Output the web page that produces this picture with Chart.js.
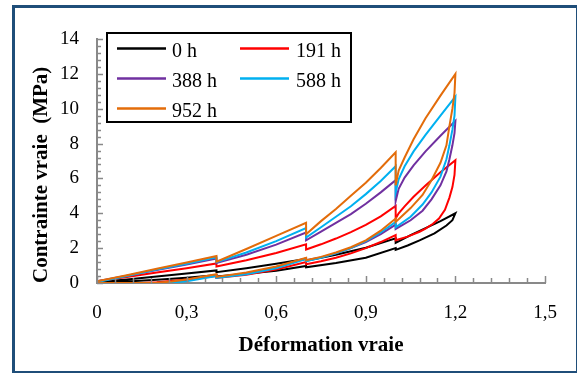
<!DOCTYPE html>
<html>
<head>
<meta charset="utf-8">
<script src="https://cdn.jsdelivr.net/npm/chart.js@4/dist/chart.umd.min.js"></script>
<style>
  html, body { margin: 0; padding: 0; background: #ffffff; }
  #wrap { position: relative; width: 577px; height: 373px; overflow: hidden; }
  #frame { position: absolute; left: 12px; top: 5px; width: 561px; height: 363px; border: 3px solid #1F4E79; pointer-events: none; }
  canvas { position: absolute; left: 0; top: 0; }
</style>
</head>
<body>
<div id="wrap">
  <canvas id="c" width="577" height="373"></canvas>
  <div id="frame"></div>
</div>
<script>
// ---- Data ----
const seriesLabels = ['0 h', '191 h', '388 h', '588 h', '952 h'];
const seriesColors = ['#000000', '#FF0000', '#7030A0', '#00B0F0', '#E36C0A'];
const xTickLabels = ['0', '0,3', '0,6', '0,9', '1,2', '1,5'];

// 0 h
const strain0h = [0, 0.1, 0.2, 0.3, 0.4, 0.4, 0.5, 0.6, 0.7, 0.7, 0.8, 0.9, 1.0, 1.0, 1.05, 1.1, 1.15, 1.2,
                  1.19, 1.17, 1.13, 1.08, 1.04, 1.0, 1.0, 0.9, 0.8, 0.7, 0.7, 0.6, 0.5, 0.4, 0.4, 0.3, 0.2, 0.1, 0];
const stress0h = [0.05, 0.2, 0.37, 0.54, 0.72, 0.62, 0.85, 1.1, 1.38, 1.28, 1.62, 2.02, 2.56, 2.3, 2.75, 3.15, 3.55, 4.0,
                  3.6, 3.3, 2.85, 2.45, 2.15, 1.9, 2.0, 1.45, 1.15, 0.9, 0.98, 0.7, 0.53, 0.38, 0.45, 0.3, 0.18, 0.08, 0.02];

// 191 h
const strain191h = [0, 0.1, 0.2, 0.3, 0.4, 0.4, 0.5, 0.6, 0.7, 0.7, 0.75, 0.8, 0.85, 0.9, 0.95, 1.0, 1.0, 1.01, 1.03, 1.06, 1.1, 1.15, 1.2,
                    1.197, 1.19, 1.18, 1.165, 1.145, 1.125, 1.1, 1.08, 1.04, 1.0, 1.0, 0.95, 0.9, 0.85, 0.8, 0.75, 0.7, 0.7, 0.6, 0.5, 0.4, 0.4, 0.3, 0.2, 0.15, 0];
const stress191h = [0.1, 0.35, 0.6, 0.85, 1.12, 0.95, 1.3, 1.72, 2.22, 1.92, 2.22, 2.55, 2.92, 3.33, 3.82, 4.42, 3.7, 4.0, 4.4, 4.95, 5.6, 6.35, 7.05,
                    6.2, 5.5, 4.9, 4.2, 3.7, 3.4, 3.12, 2.94, 2.66, 2.45, 2.75, 2.35, 2.0, 1.7, 1.45, 1.25, 1.08, 1.2, 0.78, 0.48, 0.3, 0.4, 0.2, 0.05, 0, 0];

// 388 h
const strain388h = [0, 0.1, 0.2, 0.3, 0.4, 0.4, 0.5, 0.6, 0.7, 0.7, 0.75, 0.8, 0.85, 0.9, 0.95, 1.0, 1.0, 1.01, 1.03, 1.06, 1.1, 1.15, 1.2,
                    1.197, 1.19, 1.18, 1.17, 1.15, 1.12, 1.09, 1.05, 1.0, 1.0, 0.95, 0.9, 0.85, 0.8, 0.75, 0.7, 0.7, 0.6, 0.5, 0.4, 0.4, 0.3, 0.25, 0.2, 0];
const stress388h = [0.1, 0.42, 0.75, 1.06, 1.4, 1.15, 1.62, 2.2, 2.9, 2.45, 2.95, 3.45, 3.95, 4.55, 5.2, 5.9, 4.7, 5.4, 6.05, 6.75, 7.55, 8.45, 9.3,
                    8.6, 7.9, 7.1, 6.4, 5.6, 4.8, 4.15, 3.6, 3.1, 3.35, 2.8, 2.35, 2.0, 1.7, 1.47, 1.3, 1.42, 0.9, 0.55, 0.33, 0.45, 0.15, 0.05, 0, 0];

// 588 h
const strain588h = strain388h.slice();
const stress588h = [0.05, 0.4, 0.78, 1.1, 1.47, 1.2, 1.75, 2.4, 3.15, 2.6, 3.2, 3.8, 4.4, 5.1, 5.85, 6.7, 5.2, 5.95, 6.7, 7.55, 8.5, 9.6, 10.7,
                    9.6, 8.8, 7.9, 7.1, 6.1, 5.2, 4.5, 3.8, 3.2, 3.5, 2.9, 2.4, 2.0, 1.7, 1.45, 1.25, 1.38, 0.85, 0.5, 0.3, 0.4, 0.1, 0.02, 0, 0];

// 952 h
const strain952h = strain388h.slice();
const stress952h = [0.1, 0.45, 0.82, 1.18, 1.55, 1.22, 1.95, 2.7, 3.45, 2.8, 3.55, 4.25, 5.0, 5.75, 6.6, 7.5, 5.6, 6.45, 7.2, 8.25, 9.45, 10.75, 12.0,
                    10.9, 10.0, 9.0, 7.9, 6.9, 5.9, 5.05, 4.3, 3.5, 3.7, 3.0, 2.45, 2.05, 1.75, 1.5, 1.3, 1.45, 0.95, 0.6, 0.35, 0.5, 0.2, 0.08, 0.02, 0];

const strains = [strain0h, strain191h, strain388h, strain588h, strain952h];
const stresses = [stress0h, stress191h, stress388h, stress588h, stress952h];

// ---- Build datasets ----
const datasets = seriesLabels.map((lab, i) => ({
  label: lab,
  data: strains[i].map((x, k) => ({ x: x, y: stresses[i][k] })),
  borderColor: seriesColors[i],
  backgroundColor: seriesColors[i],
  borderWidth: 2,
  pointRadius: 0,
  tension: 0,
  fill: false,
  order: seriesLabels.length - i
}));

const AXIS_GRAY = '#898989';
const SERIF = "'Liberation Serif', 'Times New Roman', serif";

// minor/major tick marks drawn inside the plot, through the chart's scales
const tickMarks = {
  id: 'tickMarks',
  afterDraw(chart) {
    const ctx = chart.ctx, xs = chart.scales.x, ys = chart.scales.y;
    const a = chart.chartArea;
    ctx.save();
    ctx.strokeStyle = AXIS_GRAY;
    ctx.lineWidth = 1.5;
    for (let k = 0; k <= 25; k++) {
      const v = k * 0.06;
      const px = Math.round(xs.getPixelForValue(v)) + 0.5;
      const len = (k % 5 === 0) ? 7 : 5;
      ctx.beginPath(); ctx.moveTo(px, a.bottom); ctx.lineTo(px, a.bottom - len); ctx.stroke();
    }
    for (let k = 0; k <= 35; k++) {
      const v = k * 0.4;
      const py = Math.round(ys.getPixelForValue(v)) + 0.5;
      const len = (k % 5 === 0) ? 6 : 4;
      ctx.beginPath(); ctx.moveTo(a.left, py); ctx.lineTo(a.left + len, py); ctx.stroke();
    }
    ctx.restore();
  }
};

// legend box drawn inside the plot
const boxLegend = {
  id: 'boxLegend',
  afterDraw(chart) {
    const ctx = chart.ctx;
    ctx.save();
    ctx.strokeStyle = '#000000';
    ctx.lineWidth = 2;
    ctx.fillStyle = '#ffffff';
    ctx.fillRect(107, 33, 244, 89);
    ctx.strokeRect(107, 33, 244, 89);
    const rows = [48.5, 78.5, 108.5];
    const cols = [{ l0: 117, l1: 166, t: 172 }, { l0: 240, l1: 289, t: 296 }];
    ctx.font = '20px ' + SERIF;
    ctx.textBaseline = 'middle';
    ctx.textAlign = 'left';
    chart.data.datasets.forEach((ds, i) => {
      const r = Math.floor(i / 2), c = i % 2;
      const y = rows[r];
      ctx.strokeStyle = ds.borderColor;
      ctx.lineWidth = 2.5;
      ctx.beginPath(); ctx.moveTo(cols[c].l0, y); ctx.lineTo(cols[c].l1, y); ctx.stroke();
      ctx.fillStyle = '#000000';
      ctx.fillText(ds.label, cols[c].t, y + 3);
    });
    ctx.restore();
  }
};

new Chart(document.getElementById('c'), {
  type: 'line',
  data: { datasets: datasets },
  plugins: [tickMarks, boxLegend],
  options: {
    responsive: false,
    animation: false,
    devicePixelRatio: 1,
    layout: { padding: { left: 0, right: 32, top: 39, bottom: 0 } },
    plugins: { legend: { display: false }, tooltip: { enabled: false } },
    scales: {
      x: {
        type: 'linear',
        min: 0, max: 1.5,
        grid: { display: false, drawTicks: false },
        border: { display: true, color: AXIS_GRAY, width: 2 },
        ticks: {
          stepSize: 0.3,
          padding: 19,
          color: '#000000',
          font: { family: SERIF, size: 19 },
          callback: (v) => xTickLabels[Math.round(v / 0.3)]
        },
        title: {
          display: true,
          text: 'Déformation vraie',
          color: '#000000',
          font: { family: SERIF, size: 21, weight: 'bold' },
          padding: { top: 0, bottom: 15 }
        },
        afterFit: (s) => { s.height = 90; }
      },
      y: {
        type: 'linear',
        min: 0, max: 14,
        grid: { display: false, drawTicks: false },
        border: { display: true, color: AXIS_GRAY, width: 2 },
        ticks: {
          stepSize: 2,
          padding: 18,
          color: '#000000',
          font: { family: SERIF, size: 19 }
        },
        title: {
          display: true,
          text: 'Contrainte vraie  (MPa)',
          align: 'start',
          color: '#000000',
          font: { family: SERIF, size: 21, weight: 'bold' },
          padding: { top: 29, bottom: 0 }
        },
        afterFit: (s) => { s.width = 97; }
      }
    }
  }
});
</script>
</body>
</html>
